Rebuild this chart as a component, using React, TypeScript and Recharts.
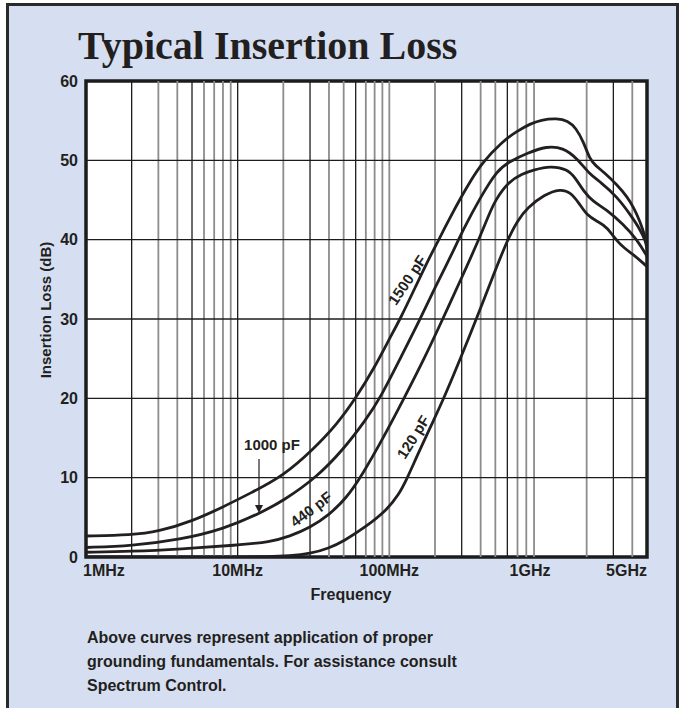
import React from "react";
import { LineChart, Line, XAxis, YAxis, CartesianGrid, ReferenceLine, ReferenceArea } from "recharts";

// frequencies in Hz, insertion loss in dB
const freq1500 = [1e6, 2e6, 3e6, 5e6, 8e6, 12e6, 20e6, 32e6, 45e6, 60e6, 80e6, 100e6, 118e6, 150e6, 180e6, 212e6, 253e6, 300e6, 343e6, 409e6, 550e6, 697e6, 850e6, 993e6, 1.28e9, 1.5e9, 1.7e9, 1.91e9, 2.1e9, 2.3e9, 2.6e9, 3.18e9, 3.7e9, 4.1e9, 4.5e9, 4.9e9, 5e9];
const loss1500 = [2.65, 2.75, 3.2, 4.5, 6.3, 8.0, 10.2, 13.7, 16.7, 20, 23.9, 27.5, 30, 34.2, 37.4, 40, 42.9, 45.5, 47.4, 49.7, 52.3, 53.7, 54.6, 55.1, 55.3, 55, 54.1, 52.3, 50.1, 49.3, 48.5, 46.9, 45.4, 44, 42.3, 40.2, 39.2];

const freq1000 = [1e6, 2e6, 4.2e6, 8e6, 14e6, 20e6, 33e6, 50e6, 70e6, 87e6, 120e6, 160e6, 200e6, 250e6, 309e6, 398e6, 514e6, 630e6, 811e6, 1.09e9, 1.4e9, 1.72e9, 2.1e9, 2.46e9, 3.18e9, 3.9e9, 4.5e9, 4.9e9, 5e9];
const loss1000 = [1.2, 1.4, 2.2, 3.5, 5.5, 7.1, 10, 13.6, 17.3, 20, 25.3, 30, 34, 37.6, 41.4, 45.3, 48.8, 49.9, 50.9, 51.8, 51.6, 50.3, 48.2, 47.3, 45.4, 43.1, 41.3, 39.8, 38.8];

const freq440 = [1e6, 2e6, 4.2e6, 10e6, 16.4e6, 22e6, 30e6, 40e6, 52e6, 66e6, 90e6, 125e6, 170e6, 225e6, 300e6, 389e6, 450e6, 500e6, 610e6, 750e6, 897e6, 1.15e9, 1.49e9, 1.7e9, 1.91e9, 2.2e9, 2.7e9, 3.5e9, 4.3e9, 5e9];
const loss440 = [0.6, 0.7, 1, 1.5, 1.9, 2.6, 3.7, 5.3, 7.4, 10.3, 14.8, 20, 25, 30, 35.2, 40, 43, 45, 47.3, 48.3, 48.8, 49.3, 48.9, 47.7, 46.1, 44.8, 43.8, 41.9, 40, 37.9];

const freq120 = [1e6, 10e6, 15.6e6, 22e6, 30e6, 40e6, 50e6, 70e6, 96e6, 115e6, 131e6, 152e6, 190e6, 229e6, 300e6, 375e6, 480e6, 601e6, 700e6, 811e6, 1.05e9, 1.35e9, 1.56e9, 1.8e9, 2e9, 2.35e9, 2.7e9, 3.3e9, 4.1e9, 5e9];
const loss120 = [0, 0, 0.05, 0.15, 0.4, 1.1, 2, 3.8, 5.9, 7.8, 9.9, 12.7, 16.7, 20, 25.4, 30, 35.3, 40, 42.4, 44, 45.7, 46.4, 46, 44.5, 43.1, 42.3, 41.7, 39.3, 38.1, 36.6];

const xTicks = [1e6, 1e7, 1e8, 1e9, 5e9];
const xTickLabels = ["1MHz", "10MHz", "100MHz", "1GHz", "5GHz"];
const yTicks = [0, 10, 20, 30, 40, 50, 60];

// the printed grid mixes black and grey minor lines (the 1GHz line is not printed)
const darkGridFreqs = [2e6, 5e6, 10e6, 30e6, 60e6, 300e6, 600e6, 3e9];
const greyGridFreqs = [3e6, 4e6, 6e6, 7e6, 8e6, 9e6, 20e6, 40e6, 50e6, 70e6, 80e6, 90e6, 100e6, 200e6, 400e6, 500e6, 700e6, 800e6, 900e6, 2e9, 4e9];
const darkGridLosses = [10, 20, 30, 40, 50];

const toRows = (f: number[], v: number[]) => f.map((x, i) => ({ f: x, v: v[i] }));

const series = [
  { name: "1500 pF", rows: toRows(freq1500, loss1500) },
  { name: "1000 pF", rows: toRows(freq1000, loss1000) },
  { name: "440 pF", rows: toRows(freq440, loss440) },
  { name: "120 pF", rows: toRows(freq120, loss120) },
];

const INK = "#231f20";
const SANS = "'Liberation Sans', Arial, Helvetica, sans-serif";

function FreqTick(props: any) {
  const { x, y, payload } = props;
  const i = xTicks.indexOf(payload.value);
  let anchor = "middle";
  let dx = 0;
  if (i === 0) { anchor = "start"; dx = -3; }
  if (i === 3) dx = -11;
  if (i === 4) { anchor = "end"; dx = 4; }
  return (
    <text x={x + dx} y={y} dy="0.71em" textAnchor={anchor} fill={INK}
      style={{ fontFamily: SANS, fontSize: 16, fontWeight: 700 }}>
      {xTickLabels[i]}
    </text>
  );
}

export default function App() {
  return (
    <div style={{ position: "absolute", left: 0, top: 0, width: 683, height: 708, background: "#fff", overflow: "hidden" }}>
      <div style={{
        position: "absolute", left: 6, top: 3, width: 673, height: 712,
        boxSizing: "border-box", border: "3px solid #2a2a2a", background: "#d6dff2",
      }} />

      <div style={{
        position: "absolute", left: 78, top: 22, fontFamily: "'Liberation Serif', 'Times New Roman', serif",
        fontSize: 40, fontWeight: 700, color: INK, lineHeight: "48px", whiteSpace: "nowrap",
      }}>Typical Insertion Loss</div>

      <div style={{ position: "absolute", left: 0, top: 0 }}>
        <LineChart width={683} height={620} margin={{ top: 81, right: 36, bottom: 33, left: 26 }}>
          <CartesianGrid horizontal={false} vertical={false} fill="#ffffff" />
          {greyGridFreqs.map((f) => (
            <ReferenceLine key={"g" + f} x={f} stroke="#8c8c8c" strokeWidth={1.8} />
          ))}
          {darkGridFreqs.map((f) => (
            <ReferenceLine key={"d" + f} x={f} stroke="#1c1c1c" strokeWidth={1.3} />
          ))}
          {darkGridLosses.map((v) => (
            <ReferenceLine key={"h" + v} y={v} stroke="#1c1c1c" strokeWidth={1.3} />
          ))}
          <XAxis dataKey="f" type="number" scale="log" domain={[1e6, 5e9]} allowDataOverflow
            ticks={xTicks} axisLine={false} tickLine={false} height={30} tick={<FreqTick />} />
          <YAxis type="number" domain={[0, 60]} ticks={yTicks} allowDataOverflow width={60}
            axisLine={false} tickLine={false}
            tick={{ fill: INK, fontFamily: SANS, fontSize: 16, fontWeight: 700 }} />
          {series.map((s) => (
            <Line key={s.name} data={s.rows} dataKey="v" name={s.name} type="basis"
              stroke={INK} strokeWidth={2.8} dot={false} isAnimationActive={false} />
          ))}
          <ReferenceArea x1={1e6} x2={5e9} y1={0} y2={60} fill="none" fillOpacity={0}
            stroke="#1c1c1c" strokeWidth={3.5} />
        </LineChart>
      </div>

      <svg width={683} height={708} style={{ position: "absolute", left: 0, top: 0, pointerEvents: "none" }}>
        <g fill={INK} style={{ fontFamily: SANS, fontWeight: 700 }}>
          <text x={45} y={310} fontSize={15} textAnchor="middle" dominantBaseline="central"
            transform="rotate(-90 45 310)">Insertion Loss (dB)</text>
          <text x={351} y={594} fontSize={16} textAnchor="middle" dominantBaseline="central">Frequency</text>
          <text x={407} y={280} fontSize={15} textAnchor="middle" dominantBaseline="central"
            transform="rotate(-56 407 280)">1500 pF</text>
          <text x={272} y={444} fontSize={15} textAnchor="middle" dominantBaseline="central">1000 pF</text>
          <text x={311} y={509} fontSize={15} textAnchor="middle" dominantBaseline="central"
            transform="rotate(-37 311 509)">440 pF</text>
          <text x={413} y={437} fontSize={15} textAnchor="middle" dominantBaseline="central"
            transform="rotate(-58 413 437)">120 pF</text>
        </g>
        <line x1={259} y1={459} x2={259} y2={506} stroke={INK} strokeWidth={1.2} />
        <polygon points="255,505 263,505 259,513" fill={INK} />
      </svg>

      <div style={{
        position: "absolute", left: 87, top: 626, fontFamily: SANS, fontSize: 16, fontWeight: 700,
        lineHeight: "24px", color: INK,
      }}>
        Above curves represent application of proper<br />
        grounding fundamentals. For assistance consult<br />
        Spectrum Control.
      </div>
    </div>
  );
}
